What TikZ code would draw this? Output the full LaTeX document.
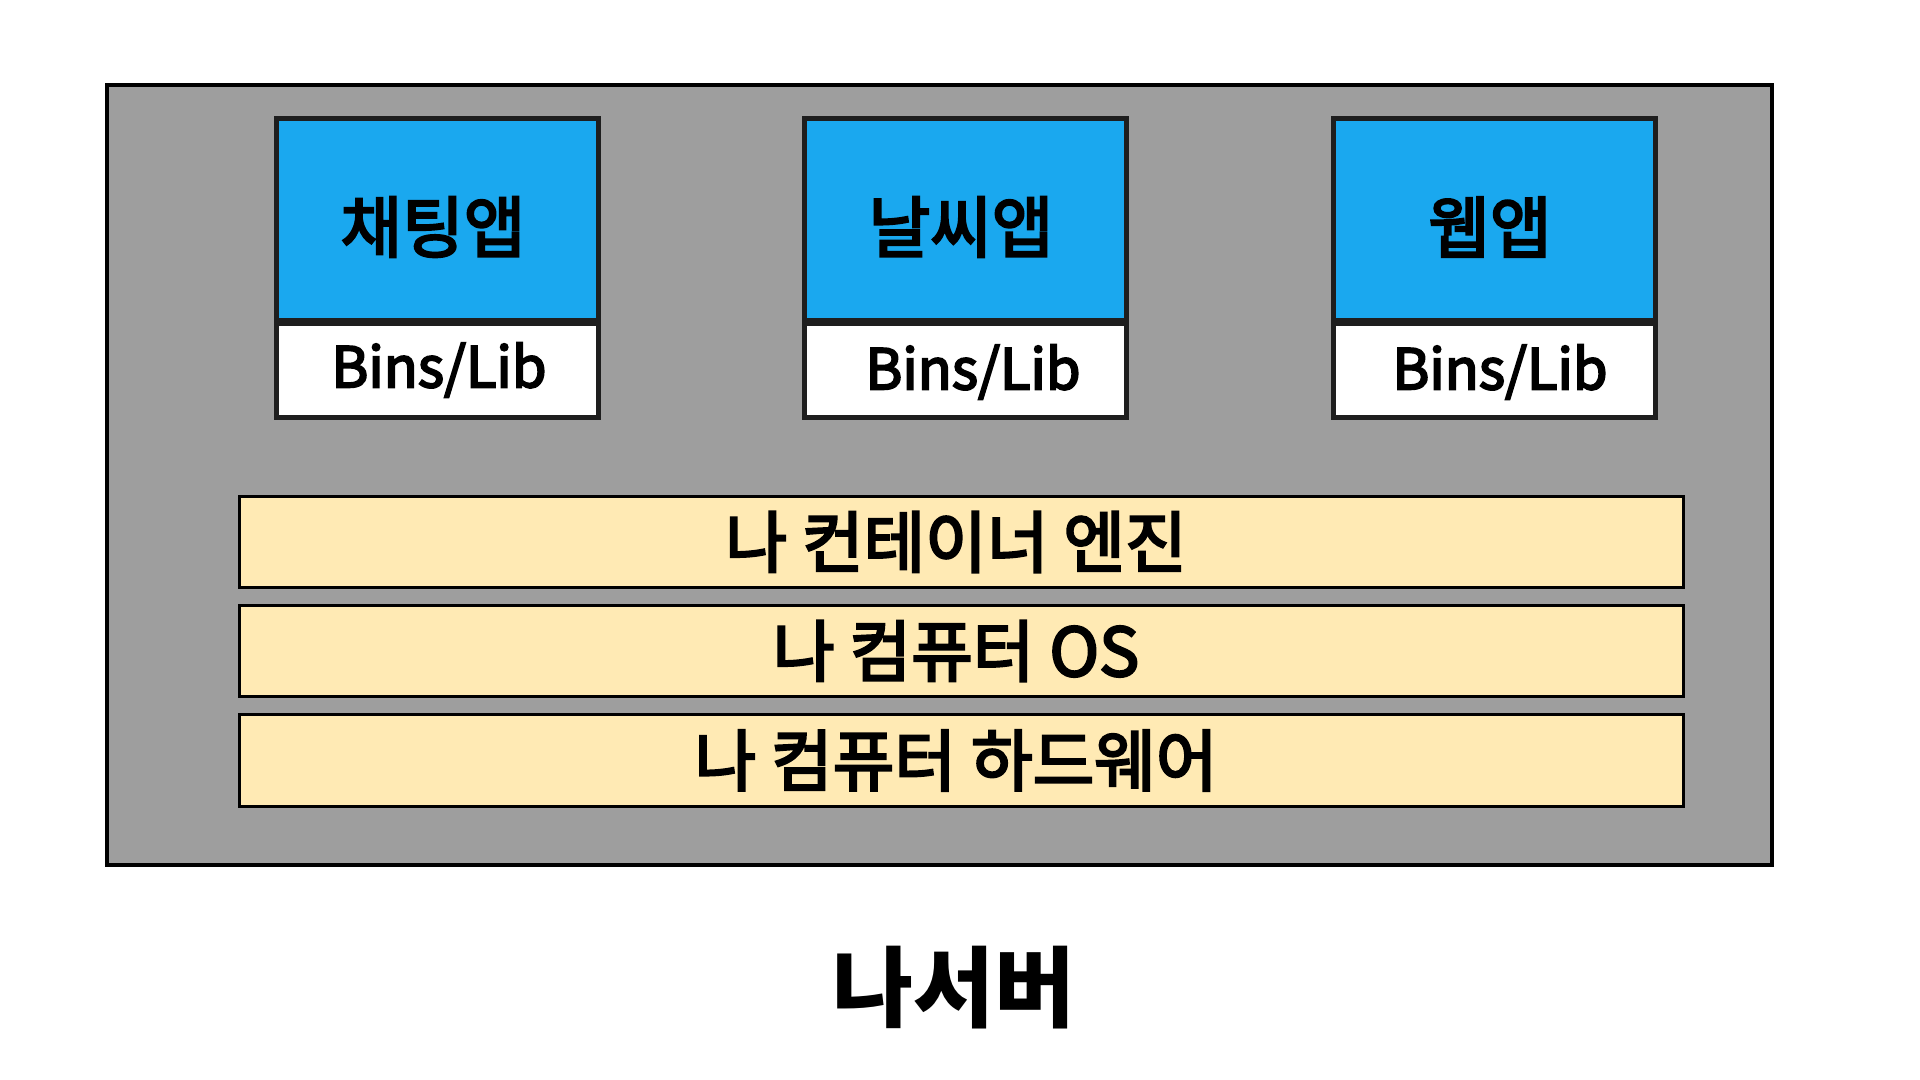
\documentclass[tikz,border=0pt]{standalone}
\usepackage{fontspec}
\newfontfamily\kr{Noto Sans CJK KR}
\newfontfamily\krm{Noto Sans CJK KR}[FakeBold=3.5]
\definecolor{srvgray}{HTML}{9E9E9E}
\definecolor{appblue}{HTML}{1AA8EF}
\definecolor{layeryellow}{HTML}{FFEAB4}
\definecolor{edgedark}{HTML}{1E1E1E}
\tikzset{
  server/.style={draw=black, fill=srvgray, line width=2pt, minimum width=1665*0.5pt, minimum height=780*0.5pt, inner sep=0pt},
  appbox/.style={draw=edgedark, fill=appblue, line width=2.5pt, minimum width=322*0.5pt, minimum height=202.5*0.5pt, inner sep=0pt},
  apptext/.style={font=\krm\fontsize{33.5pt}{38pt}\selectfont, inner sep=0pt},
  libbox/.style={draw=edgedark, fill=white, line width=2.5pt, minimum width=322*0.5pt, minimum height=93.5*0.5pt, inner sep=0pt},
  layer/.style={draw=black, fill=layeryellow, line width=1.5pt, minimum width=1444*0.5pt, minimum height=91*0.5pt, inner sep=0pt},
  libtext/.style={font=\krm\fontsize{28pt}{32pt}\selectfont, inner sep=0pt},
  layertext/.style={font=\krm\fontsize{33.5pt}{38pt}\selectfont, inner sep=0pt},
  titletext/.style={font=\kr\bfseries\fontsize{44pt}{50pt}\selectfont, inner sep=0pt}
}
\begin{document}
\begin{tikzpicture}[x=0.5pt, y=-0.5pt]
\useasboundingbox[fill=white] (0,0) rectangle (1920,1080);
\node[server] (srv) at (939.5,475) {};
% apps
\node[appbox] (chat) at (437,219.75) {};
\node[apptext] (chatt) at (433,227) {채팅앱};
\node[libbox] (chatlib) at (437,370.75) {};
\node[libtext] (chatlibt) at (439,370) {Bins/Lib};
\node[appbox] (weather) at (965,219.75) {};
\node[apptext] (weathert) at (961,227) {날씨앱};
\node[libbox] (weatherlib) at (965,370.75) {};
\node[libtext] (weatherlibt) at (973,372) {Bins/Lib};
\node[appbox] (web) at (1494,219.75) {};
\node[apptext] (webt) at (1490,227) {웹앱};
\node[libbox] (weblib) at (1494,370.75) {};
\node[libtext] (weblibt) at (1500,372) {Bins/Lib};
% layers
\node[layer] (engine) at (961.5,542) {};
\node[layertext] at (956,542) {나 컨테이너 엔진};
\node[layer] (os) at (961.5,651) {};
\node[layertext] at (956,651) {나 컴퓨터 OS};
\node[layer, minimum height=92*0.5pt] (hw) at (961.5,760.5) {};
\node[layertext] at (956,760.5) {나 컴퓨터 하드웨어};
% title
\node[titletext] (title) at (954,988) {나서버};
\end{tikzpicture}
\end{document}
